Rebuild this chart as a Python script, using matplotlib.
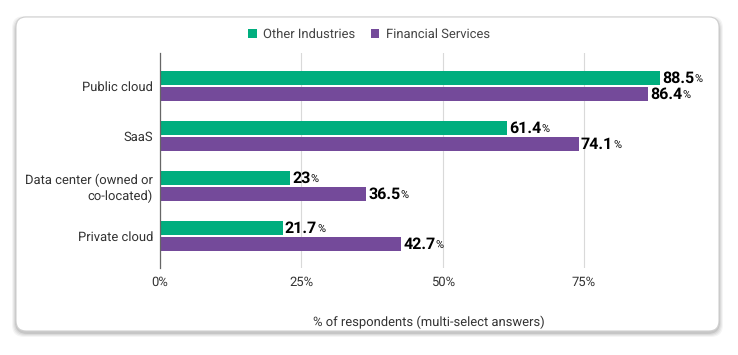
import matplotlib
matplotlib.use("Agg")
import matplotlib.pyplot as plt
from matplotlib.patches import FancyBboxPatch, Patch
from matplotlib.transforms import IdentityTransform, offset_copy
import numpy as np

categories = ["Public cloud", "SaaS", "Data center (owned or\nco-located)", "Private cloud"]
other_industries = [88.5, 61.4, 23, 21.7]
financial_services = [86.4, 74.1, 36.5, 42.7]
series_names = ["Other Industries", "Financial Services"]
x_ticks = [0, 25, 50, 75]
x_tick_labels = ["0%", "25%", "50%", "75%"]

GREEN = "#00ae7e"
PURPLE = "#744a9a"

plt.rcParams["font.family"] = ["Roboto", "DejaVu Sans"]
plt.rcParams["text.hinting"] = "none"
plt.rcParams["text.hinting_factor"] = 1

fig = plt.figure(figsize=(7.38, 3.55), dpi=100)
fig.patch.set_facecolor("white")

# card + soft shadow (pixel coords)
cx0, cy0, cx1, cy1 = 16, 355 - 331, 719, 355 - 17
for i, a in enumerate([0.04, 0.05, 0.06, 0.09]):
    grow = 4 - i
    sh = FancyBboxPatch((cx0 - grow, cy0 - grow - 2), cx1 - cx0 + 2 * grow,
                        cy1 - cy0 + 2 * grow - 1,
                        boxstyle="round,pad=0,rounding_size=12",
                        transform=IdentityTransform(), facecolor="black",
                        edgecolor="none", alpha=a, zorder=0)
    fig.patches.append(sh)
card = FancyBboxPatch((cx0, cy0), cx1 - cx0, cy1 - cy0,
                      boxstyle="round,pad=0,rounding_size=10",
                      transform=IdentityTransform(), facecolor="white",
                      edgecolor="#cfcfcf", linewidth=0.8, zorder=1)
fig.patches.append(card)

ax = fig.add_axes([160 / 738, (355 - 268) / 355, 537 / 738, 215 / 355])
ax.set_facecolor("none")
ax.set_zorder(2)

y = np.arange(len(categories))
h = 0.28
off = 0.16
ax.barh(y - off, other_industries, height=h, color=GREEN, zorder=3)
ax.barh(y + off, financial_services, height=h, color=PURPLE, zorder=3)

ax.set_xlim(0, 95)
ax.set_ylim(3.64, -0.66)
ax.set_xticks(x_ticks)
ax.set_xticklabels(x_tick_labels, fontsize=9, color="#333333")
ax.set_yticks(y)
ax.set_yticklabels(categories, fontsize=9, color="#333333")
ax.tick_params(axis="both", length=0)
ax.tick_params(axis="y", pad=5)
ax.tick_params(axis="x", pad=6)
ax.grid(axis="x", color="#d9d9d9", linewidth=0.8, zorder=0)
for s in ["top", "right", "bottom"]:
    ax.spines[s].set_visible(False)
ax.spines["left"].set_color("#666666")
ax.spines["left"].set_linewidth(0.9)
ax.spines["left"].set_zorder(4)

ax.set_xlabel("% of respondents (multi-select answers)", fontsize=9,
              color="#333333", labelpad=19.5)

# value labels: bold number + small percent sign right after it
fig.canvas.draw()
renderer = fig.canvas.get_renderer()
for vals, dy in [(other_industries, -off), (financial_services, off)]:
    for i, v in enumerate(vals):
        tr = offset_copy(ax.transData, fig, x=1.5, y=-3.6, units="points")
        t = ax.text(v, i + dy, f"{v:g}", transform=tr, fontsize=11.5,
                    fontweight="bold", color="black", va="baseline", ha="left",
                    zorder=5)
        w = t.get_window_extent(renderer).width * 72 / fig.dpi
        tr2 = offset_copy(ax.transData, fig, x=1.5 + w, y=-3.6, units="points")
        ax.text(v, i + dy, "%", transform=tr2, fontsize=8, color="black",
                va="baseline", ha="left", zorder=5)

handles = [Patch(facecolor=GREEN, label=series_names[0]),
           Patch(facecolor=PURPLE, label=series_names[1])]
fig.legend(handles=handles, loc="center", bbox_to_anchor=(0.5, (355 - 34) / 355),
           ncol=2, frameon=False, fontsize=9, handlelength=0.7, handleheight=0.7,
           handletextpad=0.5, columnspacing=1.2, labelcolor="#444444")

fig.savefig("out.png", dpi=100)
